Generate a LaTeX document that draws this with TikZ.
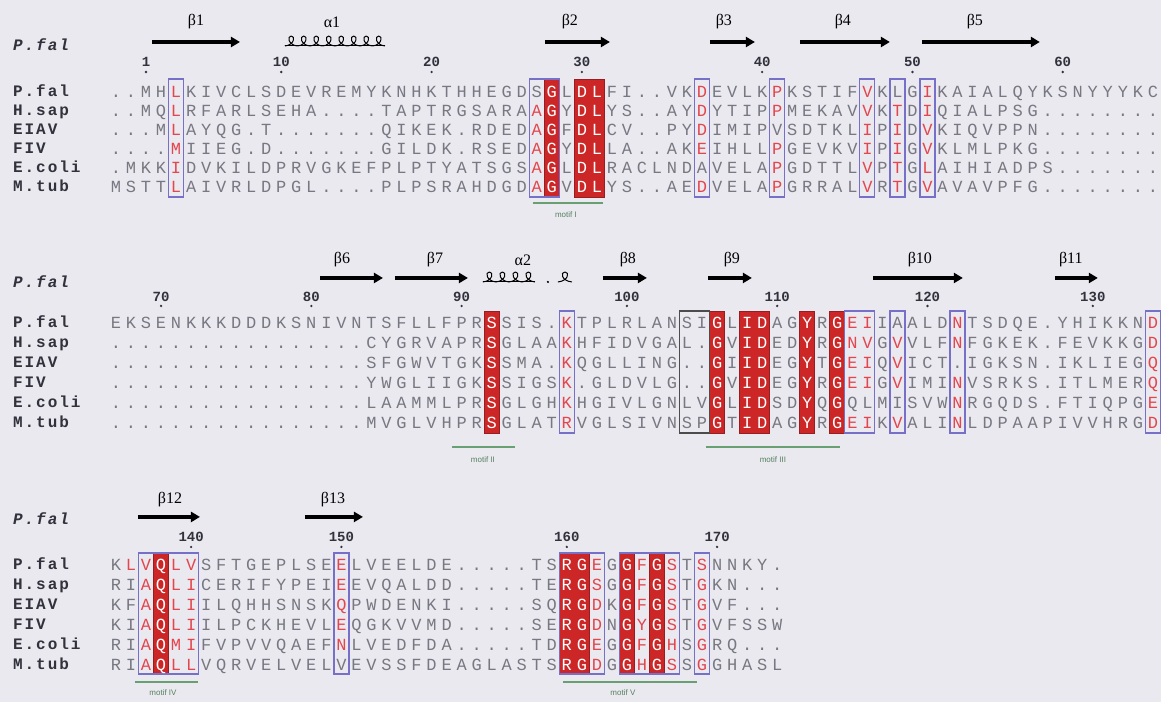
\documentclass[tikz,border=0pt]{standalone}
\usepackage{fontspec}
\setmainfont{Liberation Serif}
\newfontfamily\seqfont{Liberation Mono}
\newfontfamily\namefont[LetterSpace=12]{Liberation Mono}
\newfontfamily\labfont{Liberation Sans}
\usetikzlibrary{arrows.meta}

\definecolor{bgcol}{RGB}{234,233,240}
\definecolor{seqtxt}{RGB}{120,120,130}
\definecolor{nametxt}{RGB}{50,50,60}
\definecolor{redfill}{RGB}{204,38,38}
\definecolor{redline}{RGB}{150,30,35}
\definecolor{redtxt}{RGB}{228,70,78}
\definecolor{frameblue}{RGB}{118,112,200}
\definecolor{motifgreen}{RGB}{105,160,115}

\tikzset{
  res/.style={font=\seqfont\fontsize{17}{17}\selectfont, inner sep=0pt, text height=10.5pt, text depth=0pt, anchor=center},
  seqname/.style={font=\namefont\bfseries\fontsize{16}{16}\selectfont, text=nametxt, anchor=west, inner sep=0pt, text height=10pt, text depth=0pt},
  famtitle/.style={seqname, font=\namefont\bfseries\itshape\fontsize{16}{16}\selectfont},
  resnum/.style={font=\seqfont\bfseries\fontsize{14}{14}\selectfont, text=nametxt, inner sep=0pt},
  redbox/.style={fill=redfill, draw=redline, line width=0.8pt},
  frm/.style={draw=frameblue, line width=1.2pt},
  strand/.style={line width=3.4pt, -{Triangle[length=9pt,width=10pt]}},
  helix/.style={line width=1pt, line join=round},
  sslab/.style={font=\fontsize{16}{16}\selectfont, inner sep=0pt},
  motif/.style={draw=motifgreen, line width=2pt},
  motiflab/.style={font=\labfont\fontsize{8}{8}\selectfont, text=motifgreen!80!black, inner sep=0pt}
}

% one helix turn drawn as a small loop, #1 = left x, #2 = base y, #3 = width
\newcommand\helixturn[3]{%
  \draw[helix] (#1,#2) .. controls ({#1+0.75*#3},{#2-1}) and ({#1+0.85*#3},{#2-10}) .. ({#1+0.5*#3},{#2-10})
    .. controls ({#1+0.15*#3},{#2-10}) and ({#1+0.25*#3},{#2-1}) .. ({#1+#3},#2);}

% one alignment row: lower case = red letter, ! = white letter on red
\newcount\rescnt
\makeatletter
\def\seqrow#1#2{\global\rescnt=0 \gdef\rowy{#1}\gdef\rescol{seqtxt}\seq@next#2\relax}
\def\seq@next#1{%
  \ifx#1\relax
  \else
    \ifx#1!%
      \gdef\rescol{white}%
    \else
      \ifnum`#1>90 \gdef\rescol{redtxt}\fi
      \node[res,text=\rescol] at ({116+15.03*\the\rescnt},\rowy) {\uppercase{#1}};%
      \gdef\rescol{seqtxt}%
      \global\advance\rescnt by 1
    \fi
    \expandafter\seq@next
  \fi}
\makeatother

\begin{document}
\begin{tikzpicture}[x=1pt,y=-1pt]
  \fill[bgcol] (0,0) rectangle (1161,702);

  % ---------------- block 1 ----------------
  \node[famtitle] (title1) at (13,46) {P.fal};
  \draw[strand] (152,42) -- (240,42);
  \node[sslab] (b1) at (196,22) {β1};
  \foreach \k in {0,...,7} \helixturn{285+12.5*\k}{46}{12.5}
  \draw[helix] (285,46) -- (385,46);
  \node[sslab] (a1) at (332,22) {α1};
  \draw[strand] (545,42) -- (610,42);
  \node[sslab] (b2) at (570,22) {β2};
  \draw[strand] (710,42) -- (755,42);
  \node[sslab] (b3) at (724,22) {β3};
  \draw[strand] (800,42) -- (890,42);
  \node[sslab] (b4) at (843,22) {β4};
  \draw[strand] (922,42) -- (1040,42);
  \node[sslab] (b5) at (975,22) {β5};
  \foreach \c/\n in {2/1,11/10,21/20,31/30,43/40,53/50,63/60} {
    \node[resnum] (n\n) at ({116+15.03*\c},62) {\n};
    \fill[nametxt] ({116+15.03*\c},72) circle (1.3);
  }
  \foreach \a/\b in {29/29,31/32}
    \filldraw[redbox] ({116+15.03*\a-7.5},79) rectangle ({116+15.03*\b+7.5},197);
  \foreach \a/\b in {4/4,28/29,39/39,44/44,50/50,52/52,54/54}
    \draw[frm] ({116+15.03*\a-7.5},79) rectangle ({116+15.03*\b+7.5},197);
  \foreach \nm [count=\i from 0] in {P.fal,H.sap,EIAV,FIV,E.coli,M.tub}
    \node[seqname] (na\i) at (13,{92+19*\i}) {\nm};
  \seqrow{92}{..MHlKIVCLSDEVREMYKNHKTHHEGDS!GL!D!LFI..VKdEVLKpKSTIFvKLGiKAIALQYKSNYYYKC}
  \seqrow{111}{..MQlRFARLSEHA....TAPTRGSARAa!GY!D!LYS..AYdYTIPpMEKAVvKtDiQIALPSG........}
  \seqrow{130}{...MlAYQG.T.......QIKEK.RDEDa!GF!D!LCV..PYdIMIPVSDTKLiPiDvKIQVPPN........}
  \seqrow{149}{....mIIEG.D.......GILDK.RSEDa!GY!D!LLA..AKeIHLLpGEVKViPiGvKLMLPKG........}
  \seqrow{168}{.MKKiDVKILDPRVGKEFPLPTYATSGSa!GL!D!LRACLNDAVELApGDTTLvPtGlAIHIADPS.......}
  \seqrow{187}{MSTTlAIVRLDPGL....PLPSRAHDGDa!GV!D!LYS..AEdVELApGRRALvRtGvAVAVPFG........}
  \draw[motif] (533,203) -- (603,203);
  \node[motiflab] (m1) at (566,215) {motif I};

  % ---------------- block 2 ----------------
  \node[famtitle] (title2) at (13,283) {P.fal};
  \draw[strand] (320,278) -- (383,278);
  \node[sslab] (b6) at (342,260) {β6};
  \draw[strand] (395,278) -- (468,278);
  \node[sslab] (b7) at (435,260) {β7};
  \foreach \k in {0,...,3} \helixturn{483+13*\k}{282}{13}
  \draw[helix] (483,282) -- (535,282);
  \fill (548,282) circle (1.2);
  \helixturn{558}{282}{14}
  \node[sslab] (a2) at (523,260) {α2};
  \draw[strand] (603,278) -- (647,278);
  \node[sslab] (b8) at (628,260) {β8};
  \draw[strand] (708,278) -- (752,278);
  \node[sslab] (b9) at (732,260) {β9};
  \draw[strand] (873,278) -- (963,278);
  \node[sslab] (b10) at (920,260) {β10};
  \draw[strand] (1055,278) -- (1098,278);
  \node[sslab] (b11) at (1071,260) {β11};
  \foreach \c/\n in {3/70,13/80,23/90,34/100,44/110,54/120,65/130} {
    \node[resnum] (n\n) at ({116+15.03*\c},297) {\n};
    \fill[nametxt] ({116+15.03*\c},306) circle (1.3);
  }
  \foreach \a/\b in {25/25,40/40,42/43,46/46,48/48}
    \filldraw[redbox] ({116+15.03*\a-7.5},311) rectangle ({116+15.03*\b+7.5},433);
  \foreach \a/\b in {30/30,49/50,52/52,56/56,69/69}
    \draw[frm] ({116+15.03*\a-7.5},311) rectangle ({116+15.03*\b+7.5},433);
  \draw[black!70, line width=1.2pt] ({116+15.03*38-7.5},311) rectangle ({116+15.03*39+7.5},433);
  \foreach \nm [count=\i from 0] in {P.fal,H.sap,EIAV,FIV,E.coli,M.tub}
    \node[seqname] (nb\i) at (13,{323+20*\i}) {\nm};
  \seqrow{323}{EKSENKKKDDDKSNIVNTSFLLFPR!SSIS.kTPLRLANSI!GL!I!DAG!YR!GeiIAALDnTSDQE.YHIKKNd}
  \seqrow{343}{.................CYGRVAPR!SGLAAkHFIDVGAL.!GV!I!DED!YR!GnvGvVLFnFGKEK.FEVKKGd}
  \seqrow{363}{.................SFGWVTGK!SSMA.kQGLLING..!GI!I!DEG!YT!GeiQvICT.IGKSN.IKLIEGq}
  \seqrow{383}{.................YWGLIIGK!SSIGSk.GLDVLG..!GV!I!DEG!YR!GeiGvIMInVSRKS.ITLMERq}
  \seqrow{403}{.................LAAMMLPR!SGLGHkHGIVLGNLV!GL!I!DSD!YQ!GQLMISVWnRGQDS.FTIQPGe}
  \seqrow{423}{.................MVGLVHPR!SGLATrVGLSIVNSP!GT!I!DAG!YR!GeiKvALInLDPAAPIVVHRGd}
  \draw[motif] (452,447) -- (515,447);
  \node[motiflab] (m2) at (483,460) {motif II};
  \draw[motif] (706,447) -- (840,447);
  \node[motiflab] (m3) at (773,460) {motif III};

  % ---------------- block 3 ----------------
  \node[famtitle] (title3) at (13,520) {P.fal};
  \draw[strand] (138,517) -- (200,517);
  \node[sslab] (b12) at (170,500) {β12};
  \draw[strand] (305,517) -- (363,517);
  \node[sslab] (b13) at (333,500) {β13};
  \foreach \c/\n in {5/140,15/150,30/160,40/170} {
    \node[resnum] (n\n) at ({116+15.03*\c},537) {\n};
    \fill[nametxt] ({116+15.03*\c},547) circle (1.3);
  }
  \foreach \a/\b in {3/3,30/31,34/34,36/36}
    \filldraw[redbox] ({116+15.03*\a-7.5},553) rectangle ({116+15.03*\b+7.5},674);
  \foreach \a/\b in {2/5,15/15,30/32,34/37,39/39}
    \draw[frm] ({116+15.03*\a-7.5},553) rectangle ({116+15.03*\b+7.5},674);
  \foreach \nm [count=\i from 0] in {P.fal,H.sap,EIAV,FIV,E.coli,M.tub}
    \node[seqname] (nc\i) at (13,{565+20*\i}) {\nm};
  \seqrow{565}{Klv!QlvSFTGEPLSEeLVEELDE.....TS!R!GeG!Gf!GsTsNNKY.}
  \seqrow{585}{RIa!QliCERIFYPEIeEVQALDD.....TE!R!GsG!Gf!GsTgKN...}
  \seqrow{605}{KFa!QliILQHHSNSKqPWDENKI.....SQ!R!GdK!Gf!GsTgVF...}
  \seqrow{625}{KIa!QliILPCKHEVLeQGKVVMD.....SE!R!GdN!Gy!GsTgVFSSW}
  \seqrow{645}{RIa!QmiFVPVVQAEFnLVEDFDA.....TD!R!GeG!Gf!GhSgRQ...}
  \seqrow{665}{RIa!QllVQRVELVELVEVSSFDEAGLASTS!R!GdG!Gh!GsSgGHASL}
  \draw[motif] (135,682) -- (198,682);
  \node[motiflab] (m4) at (163,693) {motif IV};
  \draw[motif] (563,682) -- (697,682);
  \node[motiflab] (m5) at (623,693) {motif V};
\end{tikzpicture}
\end{document}
